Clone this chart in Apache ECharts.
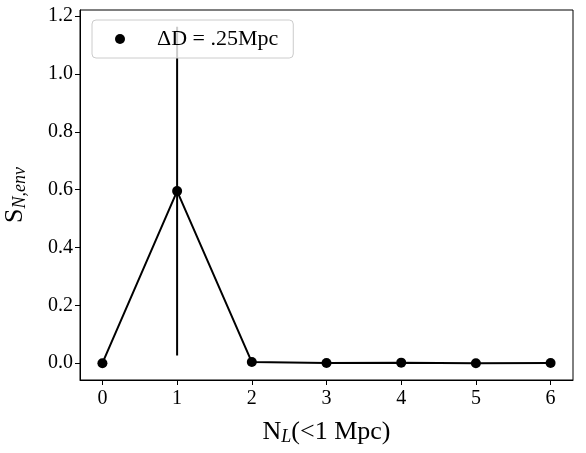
<!DOCTYPE html>
<html><head><meta charset="utf-8">
<script src="https://cdn.jsdelivr.net/npm/echarts@6/dist/echarts.min.js"></script>
<style>html,body{margin:0;padding:0;background:#fff}#c{width:586px;height:453px}</style>
</head><body><div id="c"></div>
<script>
const categories = [0, 1, 2, 3, 4, 5, 6];
const values = [0.0, 0.595, 0.004, 0.001, 0.002, 0.0, 0.001];
const errors = [0.0, 0.568, 0.0, 0.0, 0.0, 0.0, 0.0];
const xTicks = [0, 1, 2, 3, 4, 5, 6];
const yTicks = [0.0, 0.2, 0.4, 0.6, 0.8, 1.0, 1.2];
const legendLabel = 'ΔD = .25Mpc';

const FONT = 'Liberation Serif';
const pts = categories.map((c, i) => [c, values[i]]);
const errData = categories.map((c, i) => [c, values[i] - errors[i], values[i] + errors[i]]);

const chart = echarts.init(document.getElementById('c'), null, {renderer: 'canvas'});
chart.setOption({
  animation: false,
  backgroundColor: '#fff',
  grid: {left: 80, top: 10, right: 13, bottom: 73, show: true, borderColor: '#000', borderWidth: 1,
         containLabel: false, outerBoundsMode: 'none'},
  legend: {
    left: 92, top: 20, orient: 'horizontal',
    icon: 'path://M0,0 M52,10 M15,5 A5,5 0 1,1 25,5 A5,5 0 1,1 15,5 Z',
    itemWidth: 52, itemHeight: 10,
    padding: [8, 15, 8, 8],
    borderColor: '#cccccc', borderWidth: 1, borderRadius: 4,
    backgroundColor: 'rgba(255,255,255,0.8)',
    textStyle: {fontFamily: FONT, fontSize: 22, color: '#000'},
    data: [legendLabel]
  },
  xAxis: {
    type: 'value', min: -0.3, max: 6.3,
    name: 'N{s|L}(<1 Mpc)', nameLocation: 'middle', nameGap: 38,
    nameTextStyle: {fontFamily: FONT, fontSize: 26, color: '#000',
      rich: {s: {fontFamily: FONT, fontSize: 18, fontStyle: 'italic', color: '#000', padding: [10, 0, 0, 0]}}},
    axisLine: {show: true, onZero: false, lineStyle: {color: '#000', width: 1}},
    axisTick: {show: true, inside: false, length: 5, lineStyle: {color: '#000'}, customValues: xTicks},
    axisLabel: {fontFamily: FONT, fontSize: 20, color: '#000', margin: 9, customValues: xTicks, formatter: v => String(v)},
    splitLine: {show: false}
  },
  yAxis: {
    type: 'value', min: -0.058, max: 1.221,
    name: 'S{s|N,env}', nameLocation: 'middle', nameGap: 51, nameRotate: 90,
    nameTextStyle: {fontFamily: FONT, fontSize: 26, color: '#000',
      rich: {s: {fontFamily: FONT, fontSize: 18, fontStyle: 'italic', color: '#000', padding: [10, 0, 0, 0]}}},
    axisLine: {show: true, onZero: false, lineStyle: {color: '#000', width: 1}},
    axisTick: {show: true, inside: false, length: 5, lineStyle: {color: '#000'}, customValues: yTicks},
    axisLabel: {fontFamily: FONT, fontSize: 20, color: '#000', margin: 7, customValues: yTicks, formatter: v => v.toFixed(1)},
    splitLine: {show: false}
  },
  series: [
    {
      type: 'custom', silent: true, z: 1,
      data: errData,
      renderItem: function (params, api) {
        const lo = api.coord([api.value(0), api.value(1)]);
        const hi = api.coord([api.value(0), api.value(2)]);
        return {type: 'line', shape: {x1: lo[0], y1: lo[1], x2: hi[0], y2: hi[1]}, style: {stroke: '#000', lineWidth: 2}};
      }
    },
    {
      type: 'line', data: pts, showSymbol: false, symbol: 'none', z: 2,
      lineStyle: {color: '#000', width: 2}
    },
    {
      type: 'scatter', name: legendLabel, data: pts, symbol: 'circle', symbolSize: 10, z: 3,
      itemStyle: {color: '#000', opacity: 1}
    }
  ]
});
</script></body></html>
